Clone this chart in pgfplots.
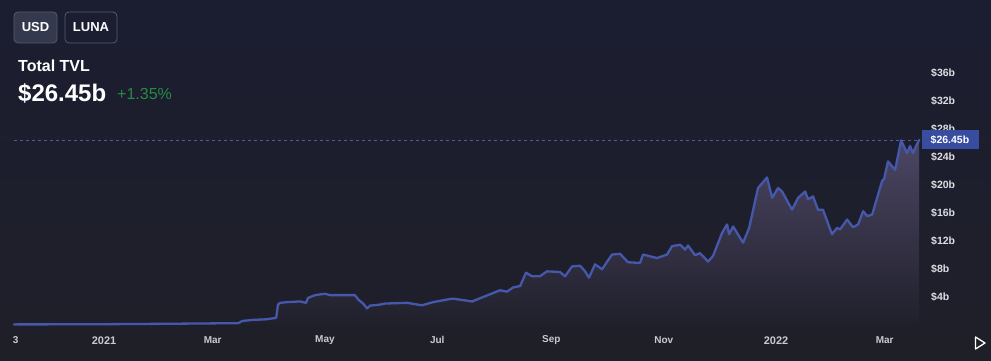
\documentclass[border=0pt]{standalone}
\usepackage{pgfplots}
\pgfplotsset{compat=1.18}
\usepackage{pgfplotstable}
\usepackage{fontspec}
\setmainfont{Liberation Sans}
\definecolor{bgtop}{RGB}{27,30,49}
\definecolor{bgbot}{RGB}{31,31,40}
\definecolor{linec}{RGB}{70,88,172}
\definecolor{filltop}{RGB}{76,70,100}
\definecolor{fillbot}{RGB}{32,32,43}
\definecolor{ticktxt}{RGB}{222,223,228}
\definecolor{monthtxt}{RGB}{200,202,210}
\definecolor{btnfill}{RGB}{52,57,78}
\definecolor{btnline}{RGB}{85,90,112}
\definecolor{pos}{RGB}{38,140,62}
\definecolor{pricebox}{RGB}{56,76,160}
\definecolor{dashc}{RGB}{80,92,160}

\pgfplotstableread{
d v
-49 0.12
-25 0.13
0 0.15
30 0.2
52 0.25
73 0.3
75 0.6
80 0.75
88 0.85
93.5 1.05
94.5 2.95
95.6 3.2
99.4 3.3
106.5 3.4
109.7 3.2
110.8 3.9
114.6 4.3
120 4.5
122.8 4.3
136.3 4.3
138 3.7
140.7 3.1
142.9 2.4
144.5 2.8
149.9 2.95
152.6 3.1
164.6 3.2
172.7 2.85
178.7 3.3
186.9 3.7
189.6 3.8
199.9 3.4
215.1 5.0
218.9 4.8
222.2 5.4
226 5.6
229.2 7.5
232.5 7.0
236.8 7.0
240.6 7.7
247.7 7.6
250.4 7.0
254.2 8.4
258.6 8.5
261.3 7.7
263.4 6.8
266.7 8.7
270.5 8.0
275.9 10.1
280.3 10.2
284.6 9.0
291.1 8.9
292.8 10.1
300.4 9.6
305.8 10.1
308.5 11.3
312.9 11.5
315.6 10.8
317.2 11.4
321 10.0
323.7 10.3
328.1 9.1
330.8 9.9
335.7 13.2
338.4 14.4
339.5 13.0
341.7 14.1
347.1 11.8
350.4 13.9
355.2 19.6
360.1 21.1
362.9 18.2
366.1 19.6
368.3 19.1
373.7 16.5
377 18.2
380.8 19.1
382.4 18.0
385.1 18.4
387.8 16.5
390.5 16.5
395.4 13.0
398.1 13.9
399.8 13.7
403.6 15.1
406.8 14.0
409.6 14.4
412.3 16.3
414.5 15.6
417.2 15.8
422.6 20.6
423.7 20.9
425.8 23.4
429.7 22.2
432.9 26.4
436.2 24.6
437.8 25.6
439.4 24.6
441.1 25.6
442.7 26.45
}\tvl

\begin{document}
\begin{tikzpicture}[x=1pt,y=1pt]
\shade[top color=bgtop, bottom color=bgbot] (0,0) rectangle (991,361);
\useasboundingbox (0,0) rectangle (991,361);
\begin{axis}[
  at={(0,42.5)}, anchor=south west,
  scale only axis, width=920pt, height=270pt,
  xmin=-56.5, xmax=443.2, ymin=-0.857, ymax=37.71,
  axis line style={draw=none}, major tick length=0pt, tick style={draw=none},
  ytick={4,8,12,16,20,24,28,32,36},
  yticklabels={\$4b,\$8b,\$12b,\$16b,\$20b,\$24b,\$28b,\$32b,\$36b},
  yticklabel pos=right,
  yticklabel style={anchor=west, font=\fontsize{10.5}{12}\selectfont\bfseries, text=ticktxt, inner sep=0pt, xshift=11pt},
  xtick={-48,0,59,120,181,243,304,365,424},
  xticklabels={3,{\fontsize{11}{12}\selectfont 2021},Mar,May,Jul,Sep,Nov,{\fontsize{11}{12}\selectfont 2022},Mar},
  xticklabel style={font=\fontsize{10}{12}\selectfont\bfseries, text=monthtxt, anchor=center, inner sep=0pt, yshift=-9pt},
]
\addplot[draw=none, top color=filltop, bottom color=fillbot] table[x=d,y=v]{\tvl} \closedcycle;
\addplot[dashc, dash pattern=on 3pt off 3pt, line width=0.8pt] coordinates {(-49,26.45) (443.2,26.45)};
\addplot[linec, line width=2.3pt, line join=round, line cap=round] table[x=d,y=v]{\tvl};
\end{axis}
% price label box
\fill[pricebox] (922,212) rectangle (979,231);
\node[anchor=west, inner sep=0pt, text=white, font=\fontsize{10.5}{12}\selectfont\bfseries] at (930.5,221.5) {\$26.45b};
% header
\draw[btnline, fill=btnfill, rounded corners=4pt, line width=0.8pt] (14,318) rectangle (57,349);
\node[text=white, font=\fontsize{13}{15}\selectfont\bfseries] at (35.5,333.5) {USD};
\draw[btnline, rounded corners=4pt, line width=0.8pt] (65,318) rectangle (117,349);
\node[text=white, font=\fontsize{13}{15}\selectfont\bfseries] at (91,333.5) {LUNA};
\node[anchor=base west, inner sep=0pt, text=white, font=\fontsize{16}{18}\selectfont\bfseries] at (18,289.5) {Total TVL};
\node[anchor=base west, inner sep=0pt, text=white, font=\fontsize{24}{26}\selectfont\bfseries] at (18,259.5) {\$26.45b};
\node[anchor=base west, inner sep=0pt, text=pos, font=\fontsize{16}{18}\selectfont] at (117,261) {+1.35\%};
% play triangle
\draw[white, line width=1.3pt, line join=round] (975.5,24) -- (975.5,12) -- (985,18) -- cycle;
\end{tikzpicture}
\end{document}
